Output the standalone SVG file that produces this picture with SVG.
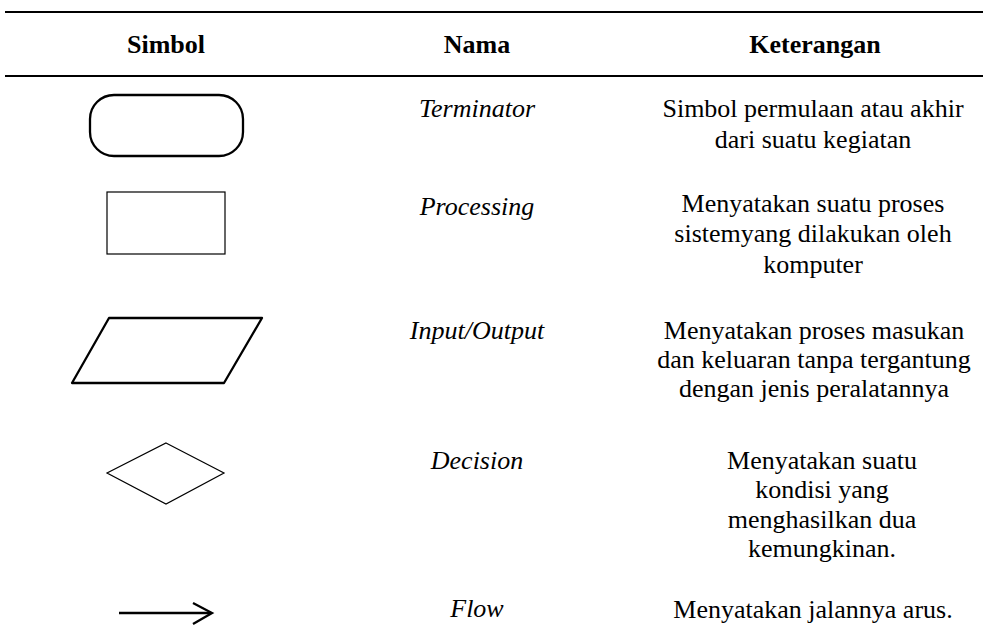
<svg xmlns="http://www.w3.org/2000/svg" width="983" height="633" viewBox="0 0 983 633">
<style>
text{font-family:"Liberation Serif","Times New Roman",serif;font-size:26px;fill:#000;text-anchor:middle}
.h{font-weight:bold}
.n{font-style:italic}
.thick{fill:none;stroke:#000;stroke-width:2.3}
.thin{fill:none;stroke:#000;stroke-width:1.2}
</style>
<rect width="983" height="633" fill="#fff"/>
<g id="table-lines">
<line x1="5" y1="12" x2="983" y2="12" stroke="#000" stroke-width="2.2"/>
<line x1="5" y1="76" x2="983" y2="76" stroke="#000" stroke-width="2.2"/>
</g>
<g id="header">
<text class="h" x="166" y="53">Simbol</text>
<text class="h" x="477" y="53">Nama</text>
<text class="h" x="815" y="53">Keterangan</text>
</g>
<g id="terminator">
<rect class="thick" x="90" y="95" width="153" height="61" rx="24" ry="24"/>
<text class="n" x="477" y="117">Terminator</text>
<text x="813" y="117">Simbol permulaan atau akhir</text>
<text x="813" y="148">dari suatu kegiatan</text>
</g>
<g id="processing">
<rect class="thin" x="107" y="192" width="118" height="62"/>
<text class="n" x="477" y="215">Processing</text>
<text x="813" y="212">Menyatakan suatu proses</text>
<text x="813" y="242">sistemyang dilakukan oleh</text>
<text x="813" y="273">komputer</text>
</g>
<g id="input-output">
<polygon class="thick" points="109,318 262,318 224,383 72,383" stroke-linejoin="round"/>
<text class="n" x="477" y="339">Input/Output</text>
<text x="814" y="339">Menyatakan proses masukan</text>
<text x="814" y="368">dan keluaran tanpa tergantung</text>
<text x="814" y="397">dengan jenis peralatannya</text>
</g>
<g id="decision">
<polygon class="thin" points="166,443 224,473 166,504 107,473"/>
<text class="n" x="477" y="469">Decision</text>
<text x="822" y="469">Menyatakan suatu</text>
<text x="822" y="498">kondisi yang</text>
<text x="822" y="528">menghasilkan dua</text>
<text x="822" y="557">kemungkinan.</text>
</g>
<g id="connectors">
<line class="thick" x1="119" y1="613" x2="211" y2="613"/>
<polyline class="thick" points="193,603 212,613 193,624"/>
</g>
<g id="flow">
<text class="n" x="477" y="617">Flow</text>
<text x="813" y="618">Menyatakan jalannya arus.</text>
</g>
</svg>
